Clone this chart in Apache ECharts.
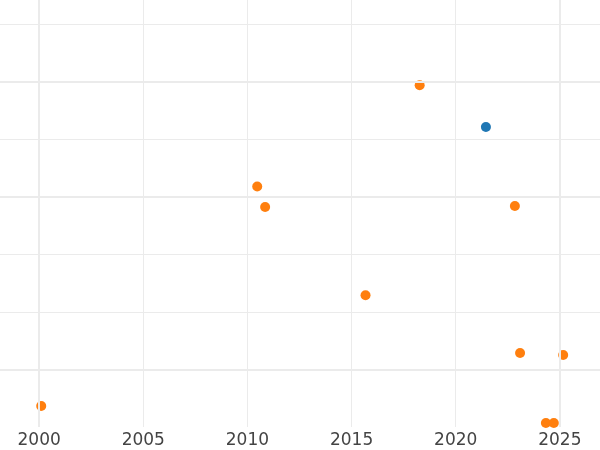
<!DOCTYPE html>
<html>
<head>
<meta charset="utf-8">
<script src="https://cdn.jsdelivr.net/npm/echarts@6/dist/echarts.min.js"></script>
<style>html,body{margin:0;padding:0;background:#fff;}#c{width:600px;height:450px;}</style>
</head>
<body>
<div id="c"></div>
<script>
// Orange series (year, value)
const orangeYears  = [2000.10, 2010.47, 2010.85, 2015.67, 2018.27, 2022.84, 2023.09, 2025.16, 2024.33, 2024.71];
const orangeValues = [-0.635, 3.183, 2.826, 1.290, 4.944, 2.843, 0.287, 0.252, -0.930, -0.930];
// Blue series
const blueYears  = [2021.45];
const blueValues = [4.217];
// Emphasised grid lines
const majorYears  = [2000, 2025];
const majorValues = [0, 3, 5];

const chart = echarts.init(document.getElementById('c'), null, {renderer: 'canvas'});
const grid = '#ebebeb';
chart.setOption({
  animation: false,
  backgroundColor: '#fff',
  grid: {left: -65, right: -64, top: -33, bottom: 23, containLabel: false, outerBoundsMode: 'none'},
  xAxis: {
    type: 'value', min: 1995, max: 2030, interval: 5,
    axisLine: {show: false}, axisTick: {show: false},
    axisLabel: {color: '#444', fontFamily: 'DejaVu Sans', fontSize: 17, margin: 5,
                formatter: v => String(v)},
    splitLine: {show: true, lineStyle: {color: grid, width: 1}}
  },
  yAxis: {
    type: 'value', min: -1, max: 7, interval: 1,
    axisLine: {show: false}, axisTick: {show: false}, axisLabel: {show: false},
    splitLine: {show: true, showMinLine: false, lineStyle: {color: grid, width: 1}}
  },
  series: [
    {
      type: 'scatter', data: [], silent: true, z: 1,
      markLine: {
        silent: true, symbol: 'none', label: {show: false}, animation: false,
        lineStyle: {color: grid, width: 2, type: 'solid'},
        data: majorYears.map(v => ({xAxis: v})).concat(majorValues.map(v => ({yAxis: v})))
      }
    },
    {
      type: 'scatter', symbolSize: 10, z: 3,
      itemStyle: {color: '#ff7f0e', opacity: 1},
      data: orangeYears.map((x, i) => [x, orangeValues[i]])
    },
    {
      type: 'scatter', symbolSize: 10, z: 3,
      itemStyle: {color: '#1f77b4', opacity: 1},
      data: blueYears.map((x, i) => [x, blueValues[i]])
    }
  ]
});
</script>
</body>
</html>
